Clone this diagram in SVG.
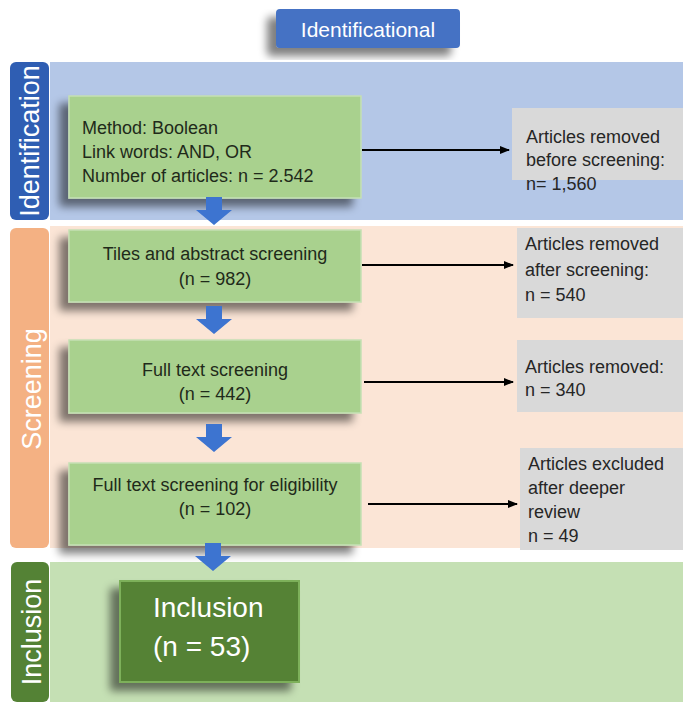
<svg xmlns="http://www.w3.org/2000/svg" width="683" height="702" viewBox="0 0 683 702">
<defs>
<filter id="sh" x="-20%" y="-20%" width="140%" height="150%">
<feGaussianBlur in="SourceAlpha" stdDeviation="4"/>
<feOffset dx="-9" dy="8" result="b"/>
<feComponentTransfer><feFuncA type="linear" slope="0.5"/></feComponentTransfer>
<feMerge><feMergeNode/><feMergeNode in="SourceGraphic"/></feMerge>
</filter>
<marker id="ah" viewBox="0 0 10 10" refX="9" refY="5" markerWidth="5" markerHeight="5" orient="auto">
<path d="M0,1 L10,5 L0,9 z" fill="#000"/>
</marker>
<path id="blk" d="M-8,0 H8 V13 H18 L0,28 L-18,13 H-8 Z" fill="#3D74D0"/>
</defs>
<style>
text{font-family:"Liberation Sans",Arial,sans-serif;}
.g{fill:#A9D18E;stroke:#C5E0B4;stroke-width:1.5;}
.gr{fill:#D9D9D9;}
.t{font-size:18px;fill:#1f2a1a;}
.r{font-size:18px;fill:#262626;}
.c{text-anchor:middle;}
.side{font-size:27px;fill:#fff;text-anchor:middle;}
.ln{stroke:#000;stroke-width:2;fill:none;marker-end:url(#ah);}
</style>
<rect width="683" height="702" fill="#fff"/>

<g id="title">
<rect x="276" y="9" width="184" height="39" rx="4" fill="#4472C4" filter="url(#sh)"/>
<text x="368" y="37" class="c" font-size="21" fill="#fff">Identificational</text>
</g>

<g id="band-identification">
<rect x="50" y="62" width="633" height="158" fill="#B4C7E7"/>
<rect x="10" y="62" width="39" height="158" rx="6" fill="#2F5EB3"/>
<text class="side" transform="translate(39,141) rotate(-90)">Identification</text>
</g>
<g id="band-screening">
<rect x="50" y="226" width="633" height="322" fill="#FBE5D6"/>
<rect x="10" y="228" width="39" height="320" rx="6" fill="#F4B183"/>
<text class="side" transform="translate(41,389) rotate(-90)">Screening</text>
</g>
<g id="band-inclusion">
<rect x="50" y="562" width="633" height="140" fill="#C5E0B4"/>
<rect x="11" y="562" width="38" height="140" rx="6" fill="#548235"/>
<text class="side" transform="translate(41,632) rotate(-90)" font-size="28">Inclusion</text>
</g>

<g id="n1">
<rect class="g" x="69" y="96" width="292" height="102" filter="url(#sh)"/>
<text class="t" x="82" y="134">Method: Boolean</text>
<text class="t" x="82" y="158">Link words: AND, OR</text>
<text class="t" x="82" y="182">Number of articles: n = 2.542</text>
</g>
<g id="r1">
<rect class="gr" x="512" y="108" width="171" height="72"/>
<text class="r" x="526" y="143">Articles removed</text>
<text class="r" x="526" y="166">before screening:</text>
<text class="r" x="526" y="190">n= 1,560</text>
</g>

<g id="n2">
<rect class="g" x="69" y="230" width="292" height="72" filter="url(#sh)"/>
<text class="t c" x="215" y="260">Tiles and abstract screening</text>
<text class="t c" x="215" y="285">(n = 982)</text>
</g>
<g id="r2">
<rect class="gr" x="517" y="228" width="166" height="90"/>
<text class="r" x="525" y="250">Articles removed</text>
<text class="r" x="525" y="276">after screening:</text>
<text class="r" x="525" y="301"> n = 540</text>
</g>

<g id="n3">
<rect class="g" x="69" y="340" width="292" height="73" filter="url(#sh)"/>
<text class="t c" x="215" y="376">Full text screening</text>
<text class="t c" x="215" y="400">(n = 442)</text>
</g>
<g id="r3">
<rect class="gr" x="517" y="340" width="166" height="72"/>
<text class="r" x="525" y="373">Articles removed:</text>
<text class="r" x="525" y="396">n = 340</text>
</g>

<g id="n4">
<rect class="g" x="69" y="463" width="292" height="82" filter="url(#sh)"/>
<text class="t c" x="215" y="491">Full text screening for eligibility</text>
<text class="t c" x="215" y="515">(n = 102)</text>
</g>
<g id="r4">
<rect class="gr" x="520" y="448" width="163" height="102"/>
<text class="r" x="528" y="470">Articles excluded</text>
<text class="r" x="528" y="494">after deeper</text>
<text class="r" x="528" y="518">review</text>
<text class="r" x="528" y="542">n = 49</text>
</g>

<g id="n5">
<rect x="120" y="581" width="179" height="101" fill="#548235" stroke="#7DB05A" stroke-width="2" filter="url(#sh)"/>
<text x="153" y="617" font-size="28" fill="#fff">Inclusion</text>
<text x="153" y="656" font-size="28" fill="#fff">(n = 53)</text>
</g>

<g id="connectors">
<line class="ln" x1="362" y1="150" x2="509" y2="150"/>
<line class="ln" x1="362" y1="265" x2="513" y2="265"/>
<line class="ln" x1="364" y1="382" x2="513" y2="382"/>
<line class="ln" x1="368" y1="504" x2="517" y2="504"/>
<use href="#blk" x="214" y="197"/>
<use href="#blk" x="214" y="306"/>
<use href="#blk" x="214" y="424"/>
<use href="#blk" x="213" y="543"/>
</g>
</svg>
